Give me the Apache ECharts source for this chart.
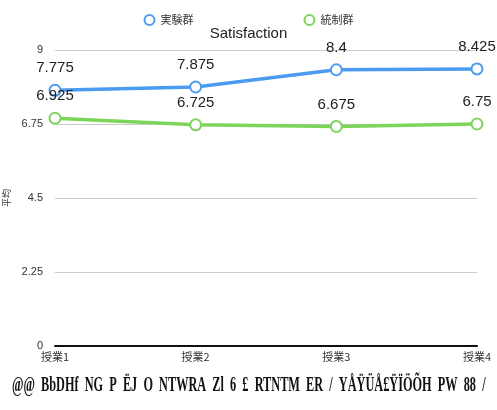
<!DOCTYPE html>
<html>
<head>
<meta charset="utf-8">
<script src="https://cdn.jsdelivr.net/npm/echarts@6/dist/echarts.min.js"></script>
<style>
  html, body { margin: 0; padding: 0; background: #fff; }
  #chart { width: 497px; height: 410px; }
</style>
</head>
<body>
<div id="chart"></div>
<script>
var categories = ['授業1', '授業2', '授業3', '授業4']
var experimental = [7.775, 7.875, 8.4, 8.425]
var control = [6.925, 6.725, 6.675, 6.75]
var yTicks = [0, 2.25, 4.5, 6.75, 9]

var chart = echarts.init(document.getElementById('chart'))

function lineSeries(name, color, data) {
  return {
    name: name,
    type: 'line',
    data: data,
    color: color,
    symbol: 'emptyCircle',
    symbolSize: 11,
    lineStyle: { width: 3.5, color: color },
    itemStyle: { color: color, borderWidth: 3, borderColor: color },
    label: {
      show: true,
      position: 'top',
      distance: 8,
      color: '#222',
      fontSize: 15,
      fontFamily: 'Liberation Sans'
    }
  }
}

chart.setOption({
  animation: false,
  textStyle: { fontFamily: 'Liberation Sans, Noto Sans CJK JP' },
  title: {
    text: 'Satisfaction',
    left: 'center',
    top: 21,
    textStyle: { fontWeight: 'normal', fontSize: 15, color: '#222' }
  },
  legend: {
    top: 9,
    left: 'center',
    itemGap: 110,
    itemWidth: 12,
    itemHeight: 10,
    textStyle: { fontSize: 11, color: '#333', fontFamily: 'Noto Sans CJK JP' },
    data: [
      { name: '実験群', icon: 'emptyCircle' },
      { name: '統制群', icon: 'emptyCircle' }
    ]
  },
  grid: { left: 55, right: 20, top: 50, bottom: 64, containLabel: false, outerBoundsMode: 'none' },
  xAxis: {
    type: 'category',
    boundaryGap: false,
    data: categories,
    axisLine: { lineStyle: { color: '#111', width: 2 } },
    axisTick: { show: false },
    axisLabel: { color: '#333', fontSize: 11, margin: 5, fontFamily: 'Noto Sans CJK JP' }
  },
  yAxis: {
    type: 'value',
    min: yTicks[0],
    max: yTicks[yTicks.length - 1],
    interval: yTicks[1],
    name: '平均',
    nameLocation: 'middle',
    nameGap: 42,
    nameTextStyle: { fontSize: 9, color: '#333', fontFamily: 'Noto Sans CJK JP' },
    axisLine: { show: false },
    axisTick: { show: false },
    axisLabel: { color: '#333', fontSize: 11, margin: 12 },
    splitLine: { lineStyle: { color: '#ccc', width: 1 } }
  },
  graphic: [{
    type: 'text',
    left: 12,
    top: 375,
    style: {
      text: '@@  BbDHf  NG  P  ËJ  O  NTWRA  Zl  6  £  RTNTM  ER  /  YÅŸÜÅ£ŸÏÖÕH  PW  88  /',
      font: 'bold 21px "Liberation Serif"',
      fill: '#111'
    },
    scaleX: 0.585
  }],
  series: [
    lineSeries('実験群', '#4b9cf0', experimental),
    lineSeries('統制群', '#7dd45a', control)
  ]
})
</script>
</body>
</html>
